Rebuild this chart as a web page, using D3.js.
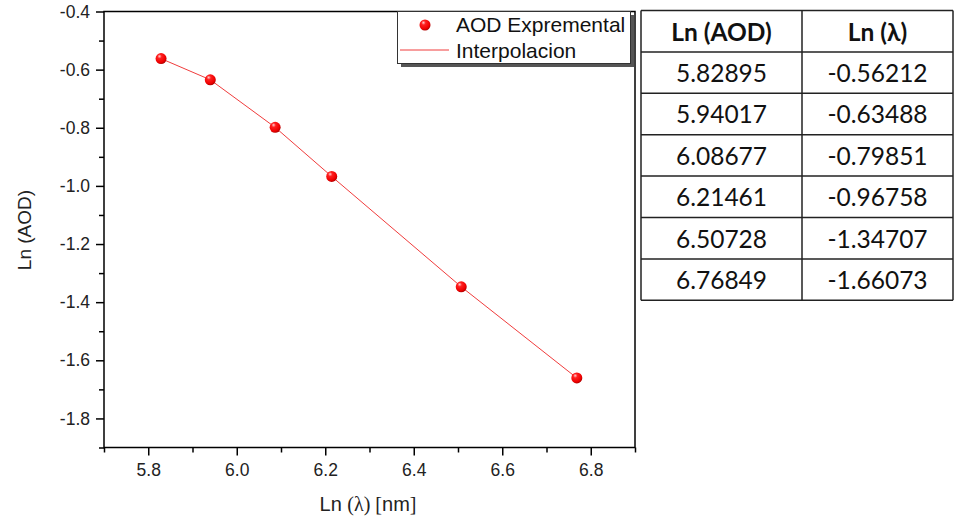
<!DOCTYPE html>
<html>
<head>
<meta charset="utf-8">
<script src="https://cdn.jsdelivr.net/npm/d3@7"></script>
<style>
  html, body { margin: 0; padding: 0; background: #fff; }
  svg { display: block; }
</style>
</head>
<body>
<svg id="chart" width="955" height="521"></svg>
<script>
// ---- data ----
const lnLambda = [5.82895, 5.94017, 6.08677, 6.21461, 6.50728, 6.76849];
const lnAOD = [-0.56212, -0.63488, -0.79851, -0.96758, -1.34707, -1.66073];
const lnLambdaLabels = ["5.82895", "5.94017", "6.08677", "6.21461", "6.50728", "6.76849"];
const lnAODLabels = ["-0.56212", "-0.63488", "-0.79851", "-0.96758", "-1.34707", "-1.66073"];
const tableHeaders = ["Ln (AOD)", "Ln (λ)"];
const xTicks = [5.8, 6.0, 6.2, 6.4, 6.6, 6.8];
const xMinorTicks = [5.7, 5.9, 6.1, 6.3, 6.5, 6.7, 6.9];
const yTicks = [-0.4, -0.6, -0.8, -1.0, -1.2, -1.4, -1.6, -1.8];
const yMinorTicks = [-0.5, -0.7, -0.9, -1.1, -1.3, -1.5, -1.7, -1.9];
const legendLabels = ["AOD Expremental", "Interpolacion"];
const yTitle = "Ln (AOD)";

const svg = d3.select("#chart");
const L = 104, R = 635, T = 11.5, B = 447.5;
const x = d3.scaleLinear().domain([5.7, 6.9]).range([L, R]);
const y = d3.scaleLinear().domain([-0.4, -1.9]).range([T, B]);

const defs = svg.append("defs");
const grad = defs.append("radialGradient").attr("id", "ball")
  .attr("cx", "40%").attr("cy", "35%").attr("r", "65%").attr("fx", "35%").attr("fy", "28%");
grad.append("stop").attr("offset", "0%").attr("stop-color", "#ffd0d0");
grad.append("stop").attr("offset", "30%").attr("stop-color", "#ff2020");
grad.append("stop").attr("offset", "80%").attr("stop-color", "#ee0000");
grad.append("stop").attr("offset", "100%").attr("stop-color", "#b00000");

const font = "Arial, 'Liberation Sans', sans-serif";
const serif = "'Liberation Serif', 'Times New Roman', serif";

// axes
const xAxis = d3.axisBottom(x).tickValues(xTicks).tickSize(8).tickPadding(8);
const xMinor = d3.axisBottom(x).tickValues(xMinorTicks).tickFormat("").tickSize(5);
const yAxis = d3.axisLeft(y).tickValues(yTicks).tickSize(8).tickPadding(6);
const yMinor = d3.axisLeft(y).tickValues(yMinorTicks).tickFormat("").tickSize(5);

function styleAxis(g) {
  g.select(".domain").remove();
  g.selectAll("line").attr("stroke", "#000").attr("stroke-width", 1.5);
  g.selectAll("text").attr("font-family", font).attr("font-size", 17.5).attr("fill", "#222");
}
svg.append("g").attr("transform", `translate(0,${B})`).call(xAxis).call(styleAxis)
  .selectAll("text").text(d => d3.format(".1f")(d));
svg.append("g").attr("transform", `translate(0,${B})`).call(xMinor).call(styleAxis);
svg.append("g").attr("transform", `translate(${L},0)`).call(yAxis).call(styleAxis)
  .selectAll("text").text(d => d3.format(".1f")(d).replace("−", "-"));
svg.append("g").attr("transform", `translate(${L},0)`).call(yMinor).call(styleAxis);

// frame
svg.append("rect").attr("x", L).attr("y", T).attr("width", R - L).attr("height", B - T)
  .attr("fill", "none").attr("stroke", "#000").attr("stroke-width", 1.5);

// line
const line = d3.line().x((d, i) => x(lnLambda[i])).y(d => y(d));
svg.append("path").datum(lnAOD).attr("d", line).attr("fill", "none")
  .attr("stroke", "#f03c3c").attr("stroke-width", 1);

// points
svg.selectAll("circle.pt").data(lnAOD).join("circle").attr("class", "pt")
  .attr("cx", (d, i) => x(lnLambda[i])).attr("cy", d => y(d)).attr("r", 5.5)
  .attr("fill", "url(#ball)");

// legend
const lg = svg.append("g");
lg.append("rect").attr("x", 401).attr("y", 15).attr("width", 233).attr("height", 52).attr("fill", "#555");
lg.append("rect").attr("x", 397.5).attr("y", 11.5).attr("width", 233).attr("height", 52)
  .attr("fill", "#fff").attr("stroke", "#333").attr("stroke-width", 1);
lg.append("circle").attr("cx", 425).attr("cy", 25).attr("r", 5.5).attr("fill", "url(#ball)");
lg.append("line").attr("x1", 400).attr("x2", 449).attr("y1", 50).attr("y2", 50)
  .attr("stroke", "#f03c3c").attr("stroke-width", 1);
lg.selectAll("text").data(legendLabels).join("text")
  .attr("x", 456).attr("y", (d, i) => 32 + i * 26)
  .attr("font-family", font).attr("font-size", 21).attr("fill", "#111").text(d => d);

// axis titles
const xt = svg.append("text").attr("x", 368).attr("y", 511).attr("text-anchor", "middle")
  .attr("font-family", font).attr("font-size", 20).attr("fill", "#222");
xt.append("tspan").text("Ln ");
xt.append("tspan").attr("font-family", serif).text("(λ) [");
xt.append("tspan").text("nm");
xt.append("tspan").attr("font-family", serif).text("]");

svg.append("text").attr("transform", "translate(31,230) rotate(-90)").attr("text-anchor", "middle")
  .attr("font-family", font).attr("font-size", 19).attr("fill", "#222").text(yTitle);

// table
const tblFont = "Lato, 'Open Sans', sans-serif";
const colX = [641, 802, 953];
const rowY = d3.range(8).map(i => 10.5 + i * 41.4);
const tg = svg.append("g");
rowY.forEach(ry => tg.append("line").attr("x1", colX[0]).attr("x2", colX[2]).attr("y1", ry).attr("y2", ry)
  .attr("stroke", "#222").attr("stroke-width", 1.5));
colX.forEach(cx => tg.append("line").attr("x1", cx).attr("x2", cx).attr("y1", rowY[0]).attr("y2", rowY[7])
  .attr("stroke", "#222").attr("stroke-width", 1.5));
const cxMid = [(colX[0] + colX[1]) / 2, (colX[1] + colX[2]) / 2];
tableHeaders.forEach((h, c) => tg.append("text").attr("x", cxMid[c]).attr("y", rowY[0] + 30)
  .attr("text-anchor", "middle").attr("font-family", tblFont).attr("font-weight", "bold")
  .attr("font-size", 24.5).attr("fill", "#111").text(h));
lnLambdaLabels.forEach((v, r) => {
  tg.append("text").attr("x", cxMid[0]).attr("y", rowY[r + 1] + 30).attr("text-anchor", "middle")
    .attr("font-family", tblFont).attr("font-size", 24.5).attr("fill", "#111").text(v);
  tg.append("text").attr("x", cxMid[1]).attr("y", rowY[r + 1] + 30).attr("text-anchor", "middle")
    .attr("font-family", tblFont).attr("font-size", 24.5).attr("fill", "#111").text(lnAODLabels[r]);
});
</script>
</body>
</html>
